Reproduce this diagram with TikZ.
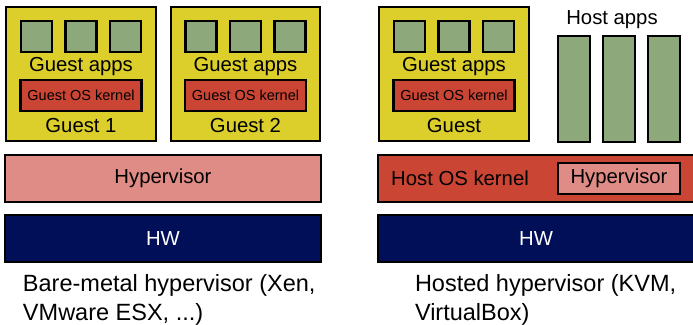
\documentclass[tikz,border=0pt]{standalone}
\usepackage{fontspec}
\setmainfont{Liberation Sans}
\usepackage{xcolor}
\usetikzlibrary{positioning}
\definecolor{vmYellow}{HTML}{DCCF2C}
\definecolor{vmGreen}{HTML}{8DA87A}
\definecolor{vmRed}{HTML}{CB4535}
\definecolor{vmPink}{HTML}{E08C86}
\definecolor{vmNavy}{HTML}{000F57}
\newcommand{\boxfont}{\fontsize{20.3}{23}\selectfont}
\newcommand{\smallboxfont}{\fontsize{14.5}{16}\selectfont}
\newcommand{\capfont}{\fontsize{23.5}{29}\selectfont}

\begin{document}
\begin{tikzpicture}[
  x=1pt, y=-1pt,
  every node/.style={inner sep=0pt, outer sep=0pt},
  guestbox/.style={
    draw=black,
    line width=2.5pt,
    fill=vmYellow,
    minimum width=150pt,
    minimum height=134pt
  },
  appbox/.style={
    draw=black,
    line width=2.5pt,
    fill=vmGreen,
    minimum width=31pt,
    minimum height=31pt
  },
  hostapp/.style={appbox,minimum width=32pt,minimum height=106pt},
  kernelbox/.style={
    draw=black,
    line width=2.5pt,
    fill=vmRed,
    minimum width=121pt,
    minimum height=31pt,
    font=\smallboxfont
  },
  layerbox/.style={
    draw=black,
    line width=2.5pt,
    minimum width=316pt,
    minimum height=47pt,
    font=\boxfont
  },
  boxlabel/.style={font=\boxfont},
  caption/.style={font=\capfont,align=left,anchor=base west}
]
  \useasboundingbox (0,0) rectangle (693,324);

  % bare-metal side
  \node[guestbox] (guestA) at (81,74) {};
  \node[guestbox,minimum width=149pt] (guestB) at (245.5,74) {};
  \foreach \g in {guestA,guestB}{
    \node[appbox] (\g-app1) at ([xshift=-44.5pt,yshift=37.5pt]\g.center) {};
    \node[appbox] (\g-app2) at ([yshift=37.5pt]\g.center) {};
    \node[appbox] (\g-app3) at ([xshift=44.5pt,yshift=37.5pt]\g.center) {};
    \node[kernelbox] (\g-kernel) at ([yshift=-21.5pt]\g.center) {Guest OS kernel};
    \node[boxlabel] (\g-apps) at ([yshift=7pt]\g.center) {Guest apps};
  }
  \node[boxlabel] (guestA-name) at ([yshift=-52pt]guestA.center) {Guest 1};
  \node[boxlabel] (guestB-name) at ([yshift=-52pt]guestB.center) {Guest 2};

  \node[layerbox,fill=vmPink] (hypA) at (163,178.5) {Hypervisor};
  \node[layerbox,fill=vmNavy,text=white] (hwA) at (163,238.5) {HW};
  \node[caption] (capA) at (23,320)
    {Bare-metal hypervisor (Xen,\\VMware ESX, ...)};

  % hosted side
  \node[guestbox] (guestC) at (454,74) {};
  \node[appbox] (guestC-app1) at ([xshift=-44.5pt,yshift=37.5pt]guestC.center) {};
  \node[appbox] (guestC-app2) at ([yshift=37.5pt]guestC.center) {};
  \node[appbox] (guestC-app3) at ([xshift=44.5pt,yshift=37.5pt]guestC.center) {};
  \node[boxlabel] (guestC-apps) at ([yshift=7pt]guestC.center) {Guest apps};
  \node[kernelbox] (guestC-kernel) at ([yshift=-21.5pt]guestC.center) {Guest OS kernel};
  \node[boxlabel] (guestC-name) at ([yshift=-52pt]guestC.center) {Guest};

  \node[hostapp] (host1) at (574,89) {};
  \node[hostapp] (host2) at (619,89) {};
  \node[hostapp] (host3) at (664,89) {};
  \node[boxlabel] (hostapps) at (612,20) {Host apps};

  \node[layerbox,fill=vmRed] (hostos) at (536,178.5) {};
  \node[boxlabel] (hostos-name) at (460,178.5) {Host OS kernel};
  \node[draw=black,line width=2.5pt,fill=vmPink,minimum width=122pt,
    minimum height=31pt,font=\boxfont] (hypB) at (619,178.5) {Hypervisor};
  \node[layerbox,fill=vmNavy,text=white] (hwB) at (536,238.5) {HW};
  \node[caption] (capB) at (415,320)
    {Hosted hypervisor (KVM,\\VirtualBox)};
\end{tikzpicture}
\end{document}
